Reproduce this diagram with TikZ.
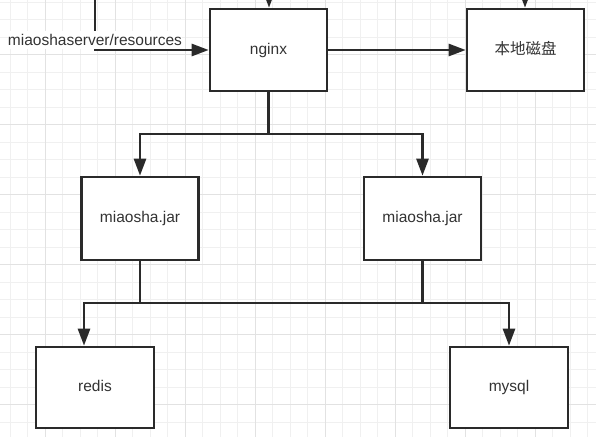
\documentclass[tikz,border=0pt]{standalone}
\usepackage{fontspec}
\setmainfont{Liberation Sans}
\newfontfamily\cjkfont{Noto Sans CJK SC}
\usetikzlibrary{arrows.meta}
\definecolor{gridminor}{HTML}{F0F0F0}
\definecolor{gridmajor}{HTML}{E2E2E2}
\definecolor{ink}{HTML}{2A2A2A}
\definecolor{txt}{HTML}{333333}
\begin{document}
\begin{tikzpicture}[x=1pt,y=-1pt,
  box/.style={draw=ink,line width=2.6pt,fill=white,minimum width=117pt,minimum height=82pt,inner sep=0pt,text height=11.5pt,text depth=3.5pt,font=\fontsize{15.5}{18}\selectfont,text=txt},
  conn/.style={draw=ink,line width=2.6pt,-{Triangle[length=17pt,width=12pt]}},
  plain/.style={draw=ink,line width=2.6pt},
  lbl/.style={fill=white,inner sep=0pt,text height=14pt,text depth=4pt,font=\fontsize{15.5}{18}\selectfont,text=txt}]
\useasboundingbox (0,0) rectangle (596,437);
\clip (0,0) rectangle (596,437);
\fill[white] (0,0) rectangle (596,437);
% grid
\foreach \i in {0,...,34} {\draw[gridminor,line width=1pt] ({10+17.5*\i},0) -- ({10+17.5*\i},437);}
\foreach \i in {0,...,25} {\draw[gridminor,line width=1pt] (0,{2+17.5*\i}) -- (596,{2+17.5*\i});}
\foreach \x in {45,115,...,535} {\draw[gridmajor,line width=1pt] (\x,0) -- (\x,437);}
\foreach \y in {54.5,124.5,...,404.5} {\draw[gridmajor,line width=1pt] (0,\y) -- (596,\y);}
% nodes
\node[box] (nginx) at (268.5,50) {nginx};
\node[box] (disk) at (525.5,50) {\cjkfont 本地磁盘};
\node[box,minimum height=83pt] (jarA) at (140,218.5) {miaosha.jar};
\node[box,minimum height=83pt] (jarB) at (422.5,218.5) {miaosha.jar};
\node[box,minimum width=118pt,minimum height=81pt] (redis) at (95,387.5) {redis};
\node[box,minimum width=118pt,minimum height=81pt] (mysql) at (509,387.5) {mysql};
% free ends above the picture
\coordinate (srcL) at (95,-20);
\coordinate (srcN) at (269,-20);
\coordinate (srcD) at (525,-20);
% connectors
\draw[conn] (srcN) -- (srcN |- nginx.north);
\draw[conn] (srcD) -- (srcD |- disk.north);
\draw[conn] (srcL) |- (nginx.west);
\node[lbl,anchor=base] (lab) at (95,45) {miaoshaserver/resources};
\draw[conn] (nginx.east) -- (disk.west);
\coordinate (busTop) at (268.5,134);
\draw[plain] (nginx.south) -- (busTop);
\draw[conn] (busTop) -| (jarA.north);
\draw[conn] (busTop) -| (jarB.north);
\coordinate (busL) at (140,303);
\coordinate (busR) at (422.5,303);
\draw[plain] (jarB.south) -- (busR) -- (busL);
\draw[conn] (jarA.south) -- (busL) -| ([xshift=-11pt]redis.north);
\draw[conn] (busR) -| (mysql.north);
\end{tikzpicture}
\end{document}
